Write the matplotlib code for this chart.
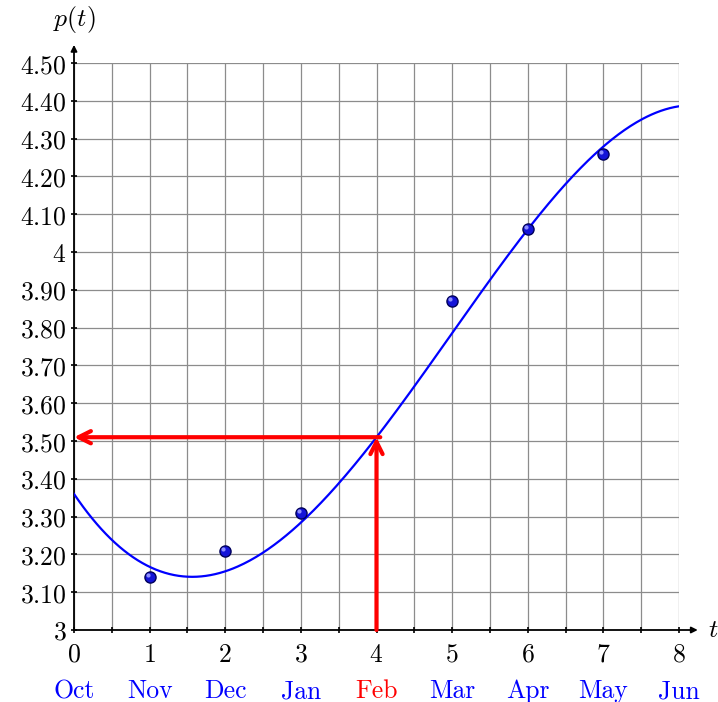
import numpy as np
import matplotlib.pyplot as plt
from matplotlib.transforms import ScaledTranslation

plt.rcParams['mathtext.fontset'] = 'cm'

# Observed prices (t = months after October)
t_obs = [1, 2, 3, 5, 6, 7]
p_obs = [3.14, 3.21, 3.31, 3.87, 4.06, 4.26]

# Trend model p(t), polynomial coefficients (highest power first)
p_coef = [-0.0001435, -0.005865, 0.10913, -0.29602, 3.36]

months = ['Oct', 'Nov', 'Dec', 'Jan', 'Feb', 'Mar', 'Apr', 'May', 'Jun']
month_colors = ['blue'] * 9
month_colors[4] = 'red'

t_read = 4
p_read = 3.51

x_ticks = [0, 1, 2, 3, 4, 5, 6, 7, 8]
y_ticks = [3, 3.1, 3.2, 3.3, 3.4, 3.5, 3.6, 3.7, 3.8, 3.9, 4, 4.1, 4.2, 4.3, 4.4, 4.5]
y_labels = ['3', '3.10', '3.20', '3.30', '3.40', '3.50', '3.60', '3.70', '3.80',
            '3.90', '4', '4.10', '4.20', '4.30', '4.40', '4.50']

fs = 18.5

fig = plt.figure(figsize=(7.18, 7.02), dpi=100)
ax = fig.add_axes([74/718, 1 - 630/702, 605/718, 567/702])
ax.set_xlim(0, 8)
ax.set_ylim(3, 4.5)

# grid
ax.set_xticks(x_ticks)
ax.set_xticks(np.arange(0.5, 8, 1), minor=True)
ax.set_yticks(y_ticks)
ax.grid(True, which='both', color='#8c8c8c', lw=0.9)
ax.set_axisbelow(True)
for s in ['top', 'right', 'left', 'bottom']:
    ax.spines[s].set_visible(False)

ax.tick_params(which='both', direction='inout', length=5, width=1.2, colors='black')
ax.set_yticklabels(['$%s$' % s for s in y_labels], fontsize=fs)
ax.set_xticklabels(['$%d$' % i for i in x_ticks], fontsize=fs)
ax.tick_params(axis='x', pad=6)
ax.tick_params(axis='y', pad=3)

# axes with arrow heads
ax.annotate('', xy=(1.031, 0), xytext=(0, 0), xycoords='axes fraction',
            arrowprops=dict(arrowstyle='-|>', lw=1.3, color='black',
                            mutation_scale=9, shrinkA=0, shrinkB=0))
ax.annotate('', xy=(0, 1.032), xytext=(0, 0), xycoords='axes fraction',
            arrowprops=dict(arrowstyle='-|>', lw=1.3, color='black',
                            mutation_scale=9, shrinkA=0, shrinkB=0))
ax.text(1.056, 0, '$t$', transform=ax.transAxes, fontsize=fs, va='center', ha='center')
ax.text(0, 1.076, '$p(t)$', transform=ax.transAxes, fontsize=fs, va='center', ha='center')

# month labels under the t ticks
for i, (m, c) in enumerate(zip(months, month_colors)):
    ax.text(i, -0.108, m, transform=ax.get_xaxis_transform(), ha='center', va='center',
            fontsize=fs, color=c, family='cmr10')

# trend curve
tt = np.linspace(0, 8, 400)
ax.plot(tt, np.polyval(p_coef, tt), color='blue', lw=1.6, zorder=3)

# reading arrows at t = 4
ax.annotate('', xy=(t_read, p_read), xytext=(t_read, 3),
            arrowprops=dict(arrowstyle='->', lw=3, color='red', mutation_scale=22,
                            shrinkA=0, shrinkB=0), zorder=4)
ax.annotate('', xy=(0, p_read), xytext=(t_read + 0.05, p_read),
            arrowprops=dict(arrowstyle='->', lw=3, color='red', mutation_scale=22,
                            shrinkA=0, shrinkB=0), zorder=4)

# data points as shaded balls
ax.plot(t_obs, p_obs, 'o', ms=8, mfc='#1414d8', mec='#00005a', mew=1, zorder=5)
ax.plot(t_obs, p_obs, 'o', ms=3, mfc='#8f8fff', mec='none', zorder=6,
        transform=ax.transData + ScaledTranslation(-1.5/72, 1.5/72, fig.dpi_scale_trans))

fig.savefig('out.png', dpi=100)
